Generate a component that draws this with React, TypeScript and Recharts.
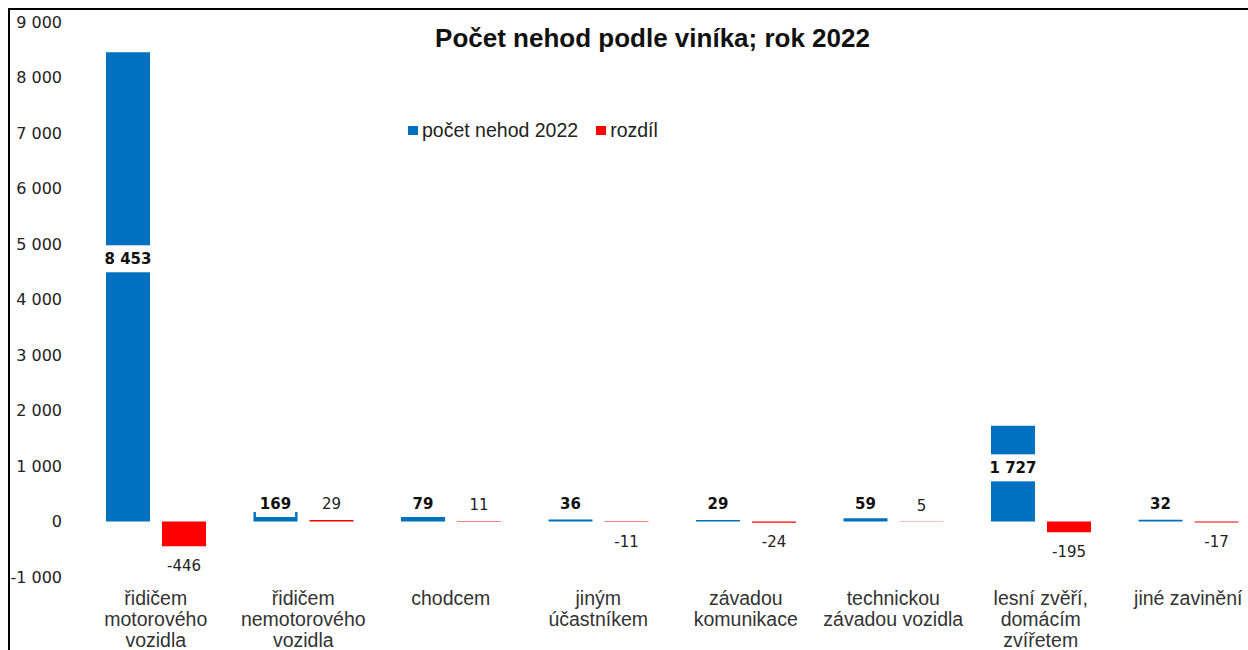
import { Bar, BarChart, LabelList, Legend, XAxis, YAxis } from "recharts";

const categories = [
  ["řidičem", "motorového", "vozidla"],
  ["řidičem", "nemotorového", "vozidla"],
  ["chodcem"],
  ["jiným", "účastníkem"],
  ["závadou", "komunikace"],
  ["technickou", "závadou vozidla"],
  ["lesní zvěří,", "domácím", "zvířetem"],
  ["jiné zavinění"],
];
const pocetNehod2022 = [8453, 169, 79, 36, 29, 59, 1727, 32];
const rozdil = [-446, 29, 11, -11, -24, 5, -195, -17];
const yTicks = [-1000, 0, 1000, 2000, 3000, 4000, 5000, 6000, 7000, 8000, 9000];

const title = "Počet nehod podle viníka; rok 2022";
const seriesNames = ["počet nehod 2022", "rozdíl"];

const data = categories.map((lines, i) => ({
  name: lines.join("\n"),
  pocet: pocetNehod2022[i],
  rozdil: rozdil[i],
}));

const FONT = "'DejaVu Sans', sans-serif";
const ARIAL = "'Liberation Sans', Arial, sans-serif";

function fmt(v: number) {
  return String(v).replace(/\B(?=(\d{3})+(?!\d))/g, " ");
}

function CategoryTick({ x, y, payload }: any) {
  const lines = String(payload.value).split("\n");
  return (
    <text textAnchor="middle" fontFamily={ARIAL} fontSize={19.5} fill="#333">
      {lines.map((l, i) => (
        <tspan key={i} x={x} y={y + 28 + i * 21}>
          {l}
        </tspan>
      ))}
    </text>
  );
}

function BlueLabel(props: any) {
  const { x, y, width, height, value } = props;
  const top = Math.min(y, y + height);
  const bottom = Math.max(y, y + height);
  const cx = x + width / 2;
  const cy = bottom - top > 40 ? top + (bottom - top) * 0.44 : bottom - 18;
  const text = fmt(value);
  let w = 0;
  for (const ch of text) w += ch === " " ? 5.2 : 10.4;
  return (
    <g>
      <rect x={cx - (w + 8) / 2} y={cy - 13.5} width={w + 8} height={27} fill="#fff" />
      <text x={cx} y={cy} dy="0.36em" textAnchor="middle" fontFamily={FONT} fontWeight="bold" fontSize={15} fill="#111">
        {text}
      </text>
    </g>
  );
}

function RedLabel(props: any) {
  const { x, y, width, height, value } = props;
  const top = Math.min(y, y + height);
  const bottom = Math.max(y, y + height);
  const cx = x + width / 2;
  const cy = value >= 0 ? top - 16 : bottom + 19;
  return (
    <text x={cx} y={cy} dy="0.36em" textAnchor="middle" fontFamily={FONT} fontSize={15} fill="#222">
      {fmt(value)}
    </text>
  );
}

function LegendBox({ payload }: any) {
  return (
    <div style={{ display: "flex", alignItems: "center", fontFamily: ARIAL, fontSize: 19.5, color: "#222", lineHeight: "20px", whiteSpace: "nowrap" }}>
      {(payload || []).map((entry: any, i: number) => (
        <span key={i} style={{ display: "inline-flex", alignItems: "center", marginRight: 18 }}>
          <span style={{ display: "inline-block", width: 10, height: 9, background: entry.color, marginRight: 4 }} />
          {entry.value}
        </span>
      ))}
    </div>
  );
}

export default function App() {
  return (
    <div
      style={{
        position: "absolute",
        left: 8,
        top: 8,
        width: 1240,
        height: 642,
        overflow: "hidden",
        borderLeft: "2px solid #000",
        borderTop: "2px solid #000",
        boxSizing: "border-box",
        background: "#fff",
      }}
    >
      <BarChart
        width={1262}
        height={660}
        data={data}
        margin={{ top: 12, right: 10, left: 0, bottom: 0 }}
        barSize={44}
        barGap={12}
      >
        <XAxis
          dataKey="name"
          interval={0}
          axisLine={false}
          tickLine={false}
          tickSize={0}
          tickMargin={0}
          height={93}
          tick={<CategoryTick />}
        />
        <YAxis
          domain={[-1000, 9000]}
          ticks={yTicks}
          interval={0}
          width={72}
          axisLine={false}
          tickLine={false}
          tickSize={0}
          tickMargin={20}
          tickFormatter={fmt}
          tick={{ fontFamily: FONT, fontSize: 16, fill: "#222" }}
        />
        <Legend
          layout="horizontal"
          verticalAlign="middle"
          align="center"
          content={<LegendBox />}
          wrapperStyle={{ position: "absolute", left: 398, top: 110, width: "auto" }}
        />
        <Bar dataKey="pocet" name={seriesNames[0]} fill="#0070C0" isAnimationActive={false}>
          <LabelList dataKey="pocet" content={<BlueLabel />} />
        </Bar>
        <Bar dataKey="rozdil" name={seriesNames[1]} fill="#FF0000" isAnimationActive={false}>
          <LabelList dataKey="rozdil" content={<RedLabel />} />
        </Bar>
      </BarChart>
      <div
        style={{
          position: "absolute",
          left: 0,
          top: 14.7,
          width: 1285,
          textAlign: "center",
          fontFamily: ARIAL,
          fontWeight: "bold",
          fontSize: 26,
          lineHeight: "26px",
          color: "#111",
          whiteSpace: "nowrap",
        }}
      >
        {title}
      </div>
    </div>
  );
}
